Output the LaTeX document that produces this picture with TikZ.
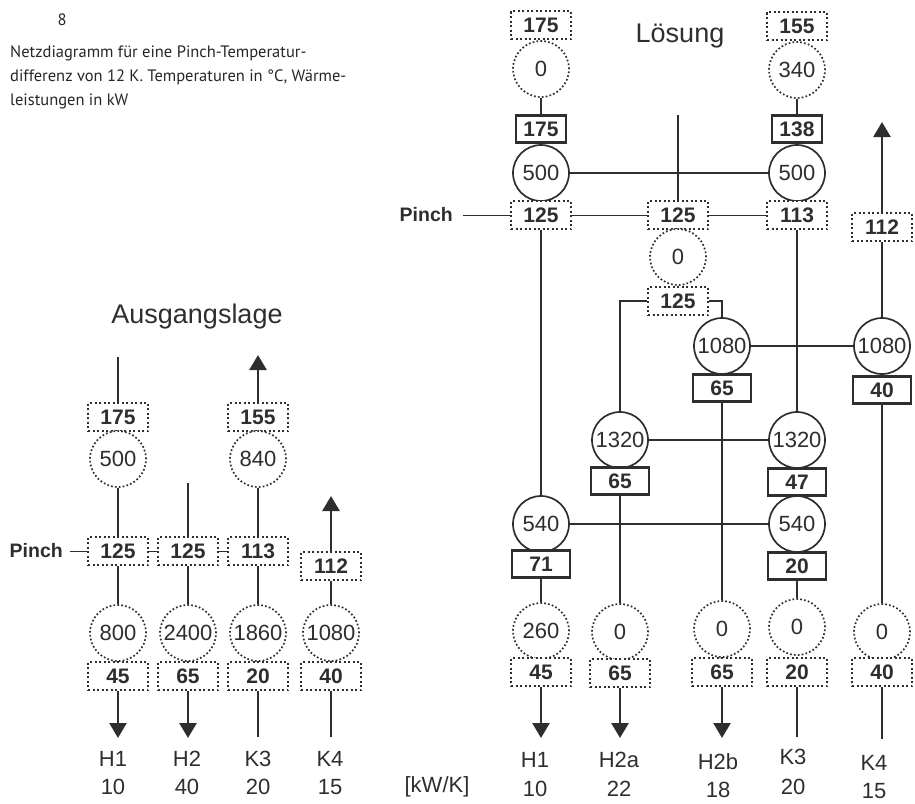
\documentclass[tikz,border=0pt]{standalone}
\usepackage{fontspec}
\setmainfont{Liberation Sans}
\newfontfamily\capfamily{PT Sans}
\usepackage{xcolor}
\usetikzlibrary{arrows.meta, positioning}
\definecolor{cINK}{HTML}{2E2E2E}
\definecolor{cCAP}{HTML}{262626}
\newcommand\hxfont{\fontsize{22}{26}\selectfont}
\newcommand\tpfont{\bfseries\fontsize{21}{25}\selectfont}
\newcommand\lblfont{\fontsize{22}{26}\selectfont}
\newcommand\ttlfont{\fontsize{27}{31}\selectfont}
\newcommand\capfont{\capfamily\fontsize{16.5}{19}\selectfont}

\begin{document}
\begin{tikzpicture}[x=1pt, y=-1pt, color=cINK,
  hx/.style={circle, draw=cINK, line width=1.7pt, minimum size=56pt, inner sep=0pt, fill=white, font=\hxfont},
  hxdot/.style={hx, line width=1.7pt, dash pattern=on 1.7pt off 2.2pt},
  tbox/.style={rectangle, draw=cINK, line width=2.4pt, minimum width=58pt, minimum height=27pt, inner sep=0pt, fill=white, font=\tpfont},
  tdot/.style={tbox, line width=2pt, dash pattern=on 2pt off 2.5pt, minimum width=60pt, minimum height=28pt},
  stream/.style={line width=2.6pt, draw=cINK},
  hot/.style={stream, -{Triangle[width=17pt, length=15pt]}},
  pin/.style={line width=0.7pt, draw=cINK},
  lbl/.style={font=\lblfont, inner sep=0pt}]
  \useasboundingbox (0,0) rectangle (915,803);

  % Caption
  \node[anchor=base, font=\capfont, color=cCAP, inner sep=0pt] (capnum) at (62,25) {8};
  \node[anchor=base west, font=\capfont, color=cCAP, inner sep=0pt] (cap1) at (10,57) {Netzdiagramm für eine Pinch-Temperatur-};
  \node[anchor=base west, font=\capfont, color=cCAP, inner sep=0pt] (cap2) at (10,81) {differenz von 12 K. Temperaturen in °C, Wärme-};
  \node[anchor=base west, font=\capfont, color=cCAP, inner sep=0pt] (cap3) at (10,105) {leistungen in kW};

  %% ---------------- Ausgangslage ----------------
  \node[anchor=base, font=\ttlfont, inner sep=0pt] (ttlA) at (197,323) {Ausgangslage};

  % H1
  \coordinate (aTop) at (118,357);
  \node[tdot] (a175) at (118,417) {175};
  \node[hxdot] (a500) at (118,459) {500};
  \node[tdot] (a125) at (118,551) {125};
  \node[hxdot] (a800) at (118,633) {800};
  \node[tdot] (a45) at (118,676) {45};
  \coordinate (aBot) at (118,738);
  % H2
  \coordinate (bTop) at (188,483);
  \node[tdot] (b125) at (188,551) {125};
  \node[hxdot] (b2400) at (188,633) {2400};
  \node[tdot] (b65) at (188,676) {65};
  \coordinate (bBot) at (188,738);
  % K3
  \coordinate (cTop) at (258,355);
  \node[tdot] (c155) at (258,417) {155};
  \node[hxdot] (c840) at (258,459) {840};
  \node[tdot] (c113) at (258,551) {113};
  \node[hxdot] (c1860) at (258,633) {1860};
  \node[tdot] (c20) at (258,676) {20};
  \coordinate (cBot) at (258,737);
  % K4
  \coordinate (dTop) at (331,496);
  \node[tdot] (d112) at (331,566) {112};
  \node[hxdot] (d1080) at (331,633) {1080};
  \node[tdot] (d40) at (331,676) {40};
  \coordinate (dBot) at (331,737);

  \draw[stream] (aTop) -- (a175);
  \draw[stream] (a500) -- (a125);
  \draw[stream] (a125) -- (a800);
  \draw[hot] (a45) -- (aBot);
  \draw[stream] (bTop) -- (b125);
  \draw[stream] (b125) -- (b2400);
  \draw[hot] (b65) -- (bBot);
  \draw[hot] (c155) -- (cTop);
  \draw[stream] (c840) -- (c113);
  \draw[stream] (c113) -- (c1860);
  \draw[stream] (c20) -- (cBot);
  \draw[hot] (d112) -- (dTop);
  \draw[stream] (d112) -- (d1080);
  \draw[stream] (d40) -- (dBot);

  % Pinch
  \node[anchor=base east, font=\bfseries\fontsize{19.5}{23}\selectfont, inner sep=0pt] (pinchA) at (63,557) {Pinch};
  \draw[pin] ([xshift=7pt]pinchA.east |- a125.west) -- (a125.west);
  \draw[pin] (a125.east) -- (b125.west);
  \draw[pin] (b125.east) -- (c113.west);

  % Labels
  \node[lbl] (lH1) at (113,759) {H1};
  \node[lbl] (lH2) at (187,759) {H2};
  \node[lbl] (lK3) at (258,759) {K3};
  \node[lbl] (lK4) at (330,759) {K4};
  \node[lbl] (vH1) at (113,787) {10};
  \node[lbl] (vH2) at (187,787) {40};
  \node[lbl] (vK3) at (258,787) {20};
  \node[lbl] (vK4) at (330,787) {15};

  %% ---------------- Lösung ----------------
  \node[anchor=base, font=\ttlfont, inner sep=0pt] (ttlL) at (680,42) {Lösung};

  % H1
  \node[tdot] (r1t) at (541,25) {175};
  \node[hxdot] (r1c) at (541,69) {0};
  \node[tbox, minimum width=50pt] (r1s) at (541,129) {175};
  \node[hx] (r1e500) at (541,173) {500};
  \node[tdot] (r1p) at (541,215) {125};
  \node[hx] (r1e540) at (541,524) {540};
  \node[tbox] (r1s71) at (541,564) {71};
  \node[hxdot] (r1c260) at (541,631) {260};
  \node[tdot] (r1b) at (541,672) {45};
  \coordinate (r1Bot) at (541,738);
  % H2 (split)
  \coordinate (rmTop) at (678,115);
  \node[tdot] (rmp) at (678,215) {125};
  \node[hxdot] (rmc) at (678,257) {0};
  \node[tdot] (rmb) at (678,301) {125};
  % H2a
  \node[hx] (r2a1320) at (620,440) {1320};
  \node[tbox] (r2a65) at (620,481) {65};
  \node[hxdot] (r2ac) at (620,632) {0};
  \node[tdot] (r2ab) at (620,673) {65};
  \coordinate (r2aBot) at (620,738);
  % H2b
  \node[hx] (r2b1080) at (722,346) {1080};
  \node[tbox] (r2b65) at (722,388) {65};
  \node[hxdot] (r2bc) at (722,629) {0};
  \node[tdot] (r2bb) at (722,672) {65};
  \coordinate (r2bBot) at (722,738);
  % K3
  \node[tdot] (r3t) at (797,26) {155};
  \node[hxdot] (r3c) at (797,70) {340};
  \node[tbox, minimum width=50pt] (r3s) at (797,129) {138};
  \node[hx] (r3e500) at (797,173) {500};
  \node[tdot] (r3p) at (797,215) {113};
  \node[hx] (r3e1320) at (797,440) {1320};
  \node[tbox] (r3s47) at (797,482) {47};
  \node[hx] (r3e540) at (797,524) {540};
  \node[tbox] (r3s20) at (797,566) {20};
  \node[hxdot] (r3c0) at (797,627) {0};
  \node[tdot] (r3b) at (797,672) {20};
  \coordinate (r3Bot) at (797,737);
  % K4
  \coordinate (r4Top) at (882,122);
  \node[tdot] (r4p) at (882,227) {112};
  \node[hx] (r4e1080) at (882,346) {1080};
  \node[tbox] (r4s40) at (882,390) {40};
  \node[hxdot] (r4c0) at (882,632) {0};
  \node[tdot] (r4b) at (882,672) {40};
  \coordinate (r4Bot) at (882,739);

  % streams
  \draw[stream] (r1c) -- (r1s);
  \draw[stream] (r1p) -- (r1e540);
  \draw[stream] (r1s71) -- (r1c260);
  \draw[hot] (r1b) -- (r1Bot);
  \draw[stream] (rmTop) -- (rmp);
  \draw[stream] (rmb.west) -| (r2a1320);
  \draw[stream] (rmb.east) -| (r2b1080);
  \draw[stream] (r2a65) -- (r2ac);
  \draw[hot] (r2ab) -- (r2aBot);
  \draw[stream] (r2b65) -- (r2bc);
  \draw[hot] (r2bb) -- (r2bBot);
  \draw[stream] (r3c) -- (r3s);
  \draw[stream] (r3p) -- (r3e1320);
  \draw[stream] (r3s20) -- (r3c0);
  \draw[stream] (r3b) -- (r3Bot);
  \draw[hot] (r4p) -- (r4Top);
  \draw[stream] (r4p) -- (r4e1080);
  \draw[stream] (r4s40) -- (r4c0);
  \draw[stream] (r4b) -- (r4Bot);

  % matches
  \draw[stream] (r1e500) -- (r3e500);
  \draw[stream] (r2b1080) -- (r4e1080);
  \draw[stream] (r2a1320) -- (r3e1320);
  \draw[stream] (r1e540) -- (r3e540);

  % Pinch
  \node[anchor=base east, font=\bfseries\fontsize{19.5}{23}\selectfont, inner sep=0pt] (pinchL) at (453,221) {Pinch};
  \draw[pin] ([xshift=10pt]pinchL.east |- r1p.west) -- (r1p.west);
  \draw[pin] (r1p.east) -- (rmp.west);
  \draw[pin] (rmp.east) -- (r3p.west);

  % Labels
  \node[lbl] (unit) at (437,787) {[kW/K]};
  \node[lbl] (rH1) at (535,760) {H1};
  \node[lbl] (rH2a) at (619,760) {H2a};
  \node[lbl] (rH2b) at (718,762) {H2b};
  \node[lbl] (rK3) at (793,757) {K3};
  \node[lbl] (rK4) at (874,763) {K4};
  \node[lbl] (wH1) at (535,789) {10};
  \node[lbl] (wH2a) at (619,789) {22};
  \node[lbl] (wH2b) at (718,790) {18};
  \node[lbl] (wK3) at (793,787) {20};
  \node[lbl] (wK4) at (874,791) {15};
\end{tikzpicture}
\end{document}
